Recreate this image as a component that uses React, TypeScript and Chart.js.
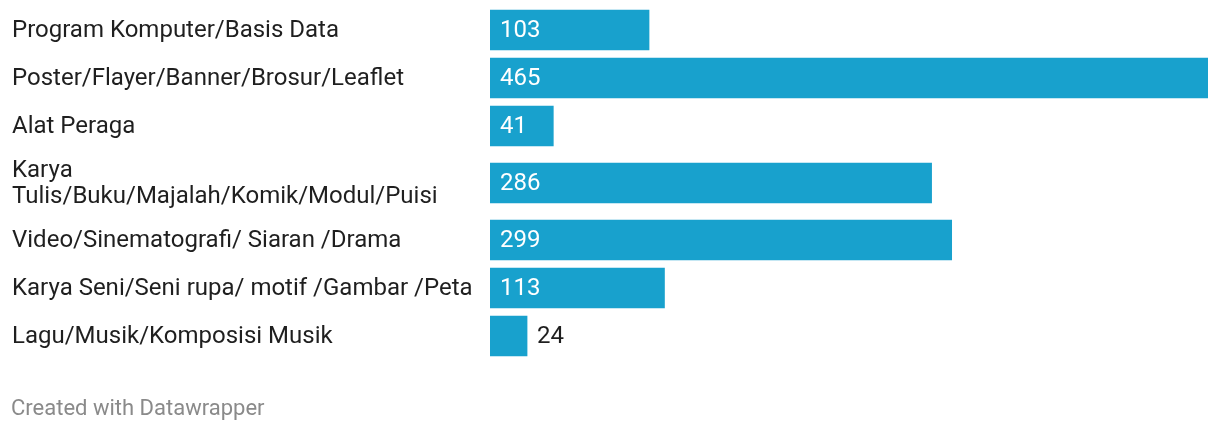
import React, { useEffect, useRef } from "react";
import { Chart, registerables } from "chart.js";

Chart.register(...registerables);

const categories: string[][] = [
  ["Program Komputer/Basis Data"],
  ["Poster/Flayer/Banner/Brosur/Leaflet"],
  ["Alat Peraga"],
  ["Karya", "Tulis/Buku/Majalah/Komik/Modul/Puisi"],
  ["Video/Sinematografi/ Siaran /Drama"],
  ["Karya Seni/Seni rupa/ motif /Gambar /Peta"],
  ["Lagu/Musik/Komposisi Musik"],
];
const values: number[] = [103, 465, 41, 286, 299, 113, 24];
const footerText = "Created with Datawrapper";

const BAR_COLOR = "#18a1cd";
const TEXT_COLOR = "#1f1f1f";
const FONT = "Roboto";

// row heights in row units (extra label lines add height)
const EXTRA_LINE = 0.375;
const rowHeights = categories.map((c) => 1 + (c.length - 1) * EXTRA_LINE);
const centers: number[] = [];
rowHeights.forEach((h, i) => {
  if (i === 0) centers.push(h / 2);
  else centers.push(centers[i - 1] + (rowHeights[i - 1] + h) / 2);
});

const W = 1204;
const H = 416;
const PX_PER_ROW = 48;
const PLOT_H = 360;
const Y_MIN = 0.5 - 22 / PX_PER_ROW;
const Y_MAX = Y_MIN + PLOT_H / PX_PER_ROW;

const valueLabels = {
  id: "valueLabels",
  afterDatasetsDraw(chart: any) {
    const ctx = chart.ctx;
    const meta = chart.getDatasetMeta(0);
    ctx.save();
    ctx.font = `24px ${FONT}`;
    ctx.textBaseline = "middle";
    ctx.textAlign = "left";
    meta.data.forEach((bar: any, i: number) => {
      const txt = String(values[i]);
      const tw = ctx.measureText(txt).width;
      const left = Math.min(bar.x, bar.base);
      const right = Math.max(bar.x, bar.base);
      if (right - left >= tw + 20) {
        ctx.fillStyle = "#ffffff";
        ctx.fillText(txt, left + 10, bar.y + 1);
      } else {
        ctx.fillStyle = TEXT_COLOR;
        ctx.fillText(txt, right + 10, bar.y + 1);
      }
    });
    ctx.restore();
  },
};

const footer = {
  id: "footer",
  afterDraw(chart: any) {
    const ctx = chart.ctx;
    ctx.save();
    ctx.font = `22px ${FONT}`;
    ctx.fillStyle = "#8a8a8a";
    ctx.textBaseline = "middle";
    ctx.textAlign = "left";
    ctx.fillText(footerText, 3, chart.height - 15);
    ctx.restore();
  },
};

export default function App() {
  const ref = useRef<HTMLCanvasElement>(null);
  useEffect(() => {
    if (!ref.current) return;
    const chart = new Chart(ref.current, {
      type: "bar",
      data: {
        datasets: [
          {
            data: values.map((v, i) => ({ x: v, y: centers[i] })) as any,
            backgroundColor: BAR_COLOR,
            borderWidth: 0,
            barThickness: 40,
          },
        ],
      },
      options: {
        indexAxis: "y",
        animation: false,
        responsive: false,
        devicePixelRatio: 1,
        layout: { padding: { left: 4, right: 4, top: 0, bottom: H - PLOT_H } },
        plugins: { legend: { display: false }, tooltip: { enabled: false } },
        scales: {
          x: {
            type: "linear",
            display: false,
            min: 0,
            max: 465,
          },
          y: {
            type: "linear",
            reverse: true,
            offset: false,
            min: Y_MIN,
            max: Y_MAX,
            grid: { display: false, drawTicks: false },
            border: { display: false },
            afterBuildTicks: (scale: any) => {
              scale.ticks = centers.map((v) => ({ value: v }));
            },
            afterFit: (scale: any) => {
              scale.width = 478;
              scale.paddingTop = 0;
              scale.paddingBottom = 0;
            },
            ticks: {
              autoSkip: false,
              crossAlign: "far",
              padding: 0,
              labelOffset: 1,
              color: TEXT_COLOR,
              font: { family: FONT, size: 24, lineHeight: 1.1 },
              callback: (_v: any, i: number) => categories[i],
            },
          },
        },
      },
      plugins: [valueLabels, footer],
    });
    return () => chart.destroy();
  }, []);
  return (
    <div style={{ width: W, height: H }}>
      <canvas ref={ref} width={W} height={H} style={{ display: "block" }} />
    </div>
  );
}
